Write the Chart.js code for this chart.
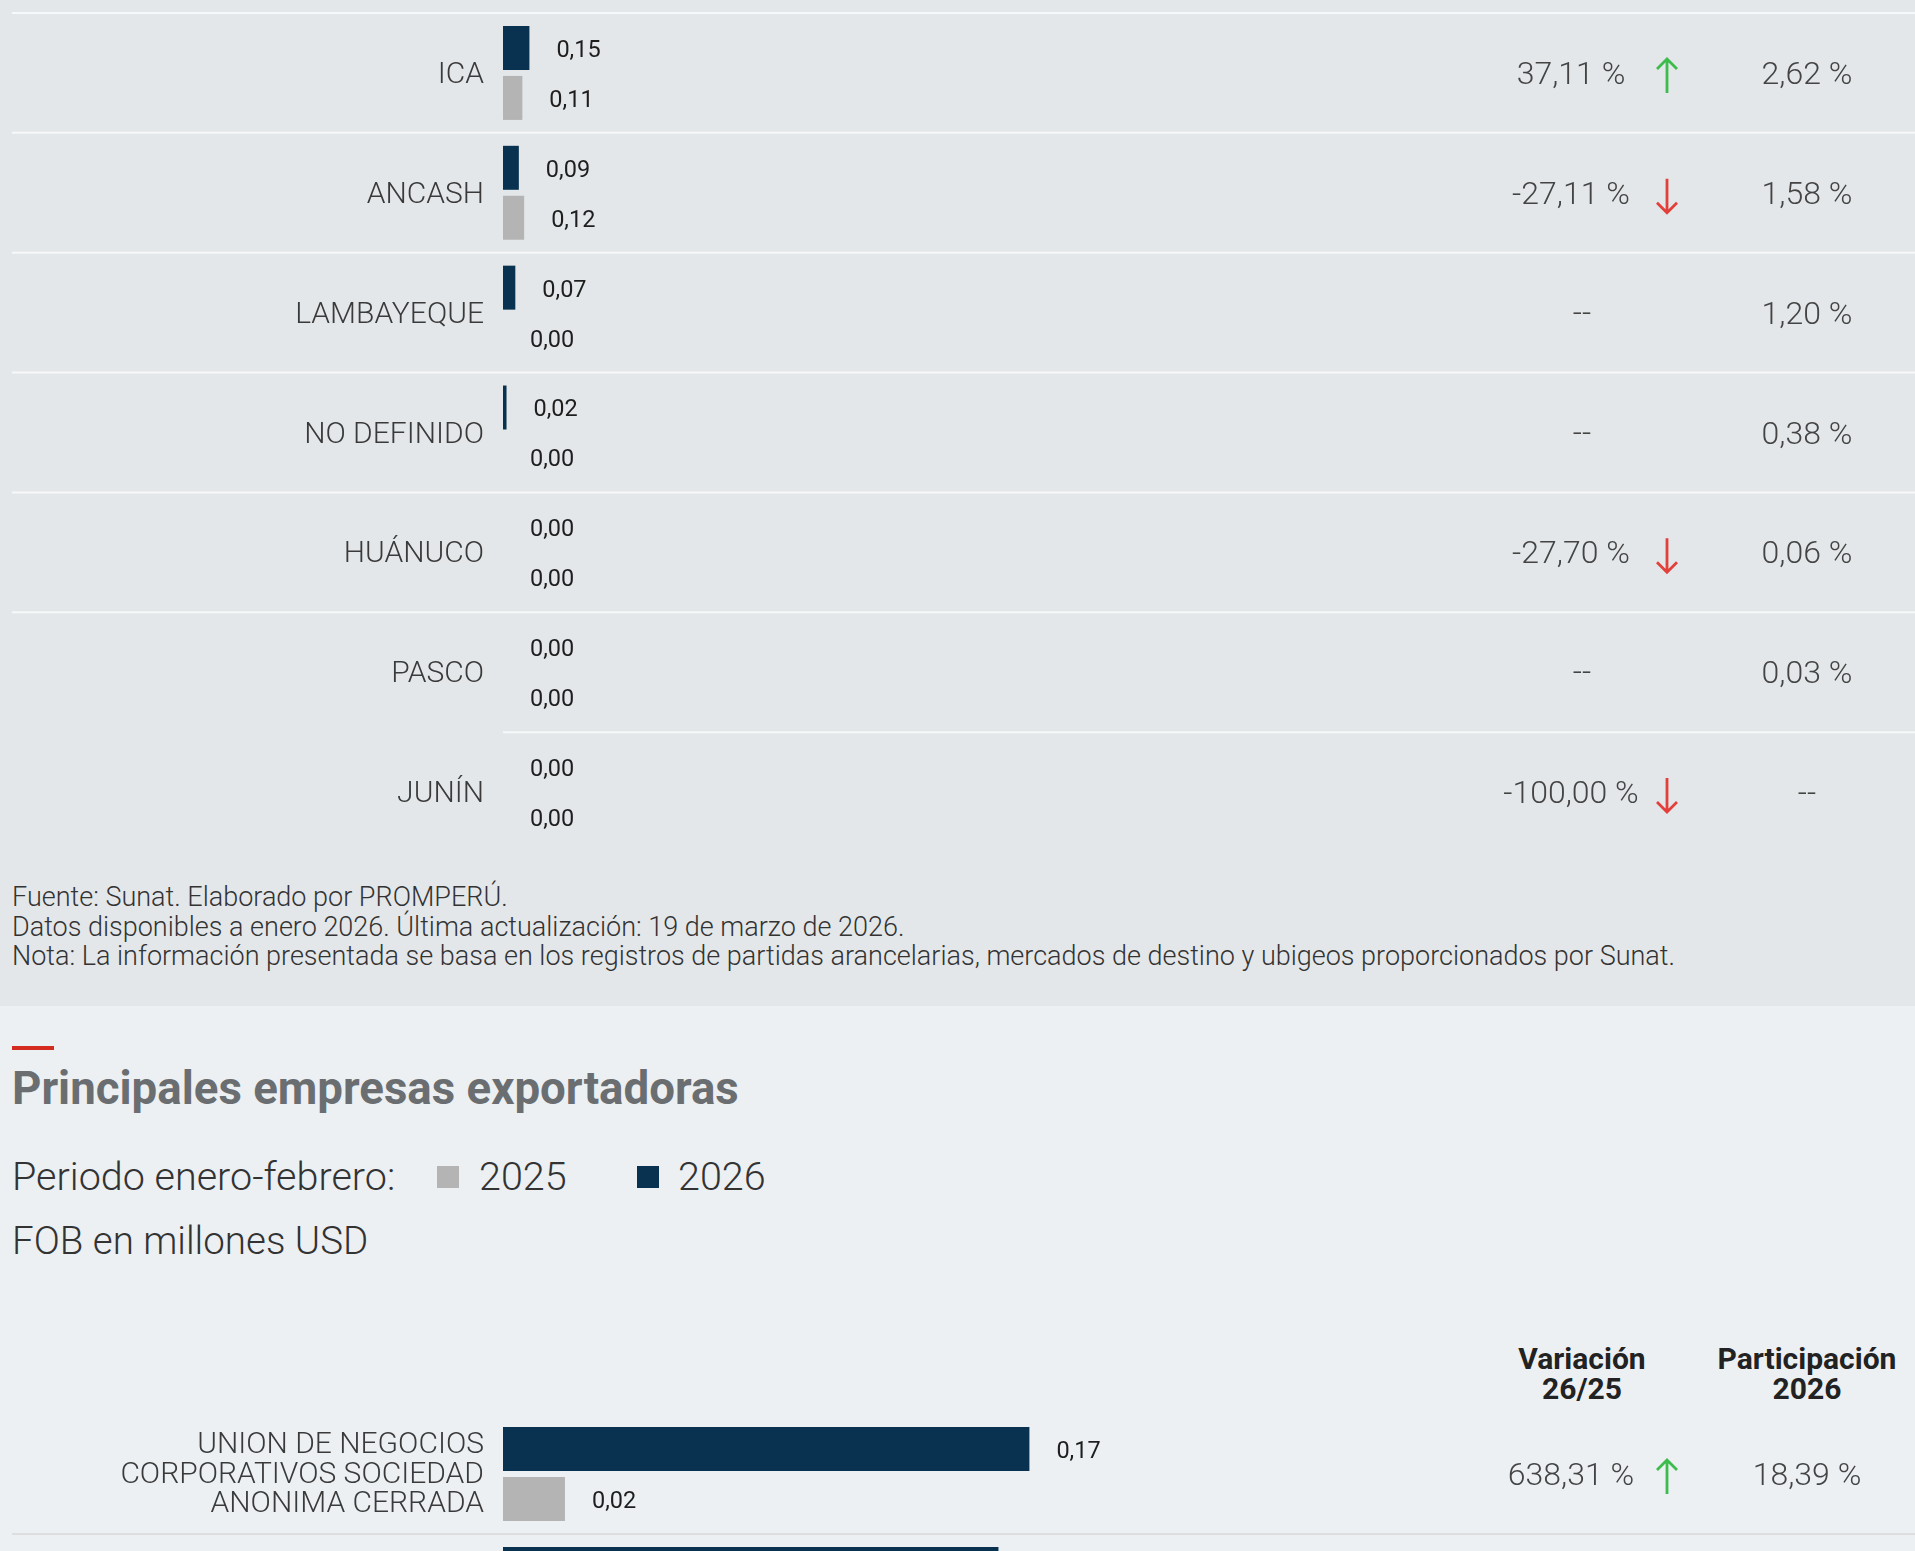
<!DOCTYPE html>
<html lang="es">
<head>
<meta charset="utf-8">
<title>Exportaciones por región y principales empresas</title>
<script src="https://cdn.jsdelivr.net/npm/chart.js@4.4.1/dist/chart.umd.min.js"></script>
<style>
  html, body { margin: 0; padding: 0; width: 1915px; height: 1551px; overflow: hidden; font-family: Roboto, "Noto Sans", sans-serif; color: #333; }
  #top { position: absolute; left: 0; top: 0; width: 1915px; height: 1006px; background: #e4e7e9; }
  #bottom { position: absolute; left: 0; top: 1006px; width: 1915px; height: 545px; background: #ecf0f3; overflow: hidden; }
  .box { position: absolute; left: 0; width: 1915px; }
  .foot { position: absolute; left: 12px; top: 883px; font-size: 27px; line-height: 29.5px; font-weight: 300; color: #333; white-space: nowrap; }
  .dash { position: absolute; left: 12px; top: 40px; width: 42px; height: 4px; background: #d52b1e; }
  .title { position: absolute; left: 12px; top: 57px; font-size: 46px; line-height: 50px; font-weight: 700; color: #6b6e71; white-space: nowrap; transform-origin: left center; }
  .txt { position: absolute; font-size: 39.5px; line-height: 46px; font-weight: 300; color: #333; white-space: nowrap; }
  .sq { position: absolute; width: 22px; height: 22px; }
  .hdr { position: absolute; width: 260px; margin-left: -130px; text-align: center; font-size: 30px; line-height: 29.5px; font-weight: 700; color: #222; }
</style>
</head>
<body>
<div id="top">
  <div class="box" style="top:0;height:852px"><canvas id="regionChart"></canvas></div>
  <div class="foot">
    Fuente: Sunat. Elaborado por PROMPERÚ.<br>
    Datos disponibles a enero 2026. Última actualización: 19 de marzo de 2026.<br>
    Nota: La información presentada se basa en los registros de partidas arancelarias, mercados de destino y ubigeos proporcionados por Sunat.
  </div>
</div>
<div id="bottom">
  <div class="dash"></div>
  <div class="title" id="title">Principales empresas exportadoras</div>
  <div class="txt" style="left:12px;top:148px">Periodo enero-febrero:</div>
  <div class="sq" style="left:437px;top:160px;background:#b4b4b4"></div>
  <div class="txt" style="left:479px;top:148px">2025</div>
  <div class="sq" style="left:637px;top:160px;background:#08324f"></div>
  <div class="txt" style="left:678px;top:148px">2026</div>
  <div class="txt" style="left:12px;top:212px;font-size:38.5px">FOB en millones USD</div>
  <div class="hdr" style="left:1582px;top:338px">Variación<br>26/25</div>
  <div class="hdr" style="left:1807px;top:338px">Participación<br>2026</div>
  <div class="box" style="top:408px;height:240px"><canvas id="companyChart"></canvas></div>
</div>

<script>
// regiones (FOB en millones USD)
const regions = ['ICA', 'ANCASH', 'LAMBAYEQUE', 'NO DEFINIDO', 'HUÁNUCO', 'PASCO', 'JUNÍN'];
const region2026 = [0.15, 0.09, 0.07, 0.02, 0.00, 0.00, 0.00];
const region2025 = [0.11, 0.12, 0.00, 0.00, 0.00, 0.00, 0.00];
const regionVariation = [37.11, -27.11, null, null, -27.70, null, -100.00];
const regionShare = [2.62, 1.58, 1.20, 0.38, 0.06, 0.03, null];

// empresas
const companies = [['UNION DE NEGOCIOS', 'CORPORATIVOS SOCIEDAD', 'ANONIMA CERRADA'], ''];
const company2026 = [0.17, 0.16];
const company2025 = [0.02, null];
const companyVariation = [638.31, null];
const companyShare = [18.39, null];

const NAVY = '#08324f';
const GREY = '#b4b4b4';

function fmt(v) {
  return v.toFixed(2).replace('.', ',');
}

function drawArrow(ctx, x, y, up, color) {
  const h = 17;
  const tip = up ? y - h : y + h;
  const back = up ? 10 : -10;
  ctx.save();
  ctx.strokeStyle = color;
  ctx.lineWidth = 2.8;
  ctx.beginPath();
  ctx.moveTo(x, y - h);
  ctx.lineTo(x, y + h);
  ctx.moveTo(x - 10, tip + back);
  ctx.lineTo(x, tip);
  ctx.lineTo(x + 10, tip + back);
  ctx.stroke();
  ctx.restore();
}

// líneas entre filas, etiquetas de valor y columnas de variación / participación
const rowDecor = {
  id: 'rowDecor',
  beforeDatasetsDraw(chart, args, o) {
    const { ctx, chartArea, scales: { y } } = chart;
    const n = chart.data.labels.length;
    const band = (y.bottom - y.top) / n;
    ctx.save();
    ctx.strokeStyle = o.ruleColor;
    ctx.lineWidth = 2;
    for (let i = 0; i < n; i++) {
      const c = y.getPixelForValue(i);
      const yy = o.ruleEdge === 'top' ? c - band / 2 : c + band / 2;
      const x0 = i === o.shortRule ? chartArea.left : 12;
      ctx.beginPath();
      ctx.moveTo(x0, yy);
      ctx.lineTo(chart.width, yy);
      ctx.stroke();
    }
    ctx.restore();
  },
  afterDatasetsDraw(chart, args, o) {
    const { ctx, scales: { y } } = chart;
    ctx.save();
    ctx.textBaseline = 'middle';

    // valores al final de cada barra
    ctx.font = '400 23.5px Roboto';
    ctx.fillStyle = '#1e1e1e';
    ctx.textAlign = 'left';
    chart.data.datasets.forEach((ds, di) => {
      chart.getDatasetMeta(di).data.forEach((bar, i) => {
        const v = ds.data[i];
        if (v === null || v === undefined) return;
        ctx.fillText(fmt(v), bar.x + 27, bar.y + 3);
      });
    });

    ctx.font = '300 32px Roboto';
    ctx.fillStyle = '#444';
    ctx.textAlign = 'center';
    o.variation.forEach((v, i) => {
      const c = y.getPixelForValue(i) + 3;
      if (v === null) {
        ctx.fillText('--', 1582, c - 1);
        return;
      }
      ctx.fillText(fmt(v) + ' %', 1571, c);
      drawArrow(ctx, 1667, c, v >= 0, v >= 0 ? '#3dbb4c' : '#e2403b');
    });
    o.share.forEach((v, i) => {
      const c = y.getPixelForValue(i) + 3;
      ctx.fillText(v === null ? '--' : fmt(v) + ' %', 1807, c);
    });
    ctx.restore();
  }
};

function makeChart(id, labels, s2026, s2025, variation, share, xMax, decor) {
  const ctx = document.getElementById(id).getContext('2d');
  return new Chart(ctx, {
    type: 'bar',
    data: {
      labels,
      datasets: [
        { label: '2026', data: s2026, backgroundColor: NAVY },
        { label: '2025', data: s2025, backgroundColor: GREY }
      ]
    },
    options: {
      indexAxis: 'y',
      responsive: true,
      maintainAspectRatio: false,
      animation: false,
      categoryPercentage: 0.834,
      barPercentage: 0.88,
      layout: { padding: { top: decor.padTop, bottom: 0, left: 0, right: 1915 - 1401 } },
      plugins: {
        legend: { display: false },
        tooltip: { enabled: false },
        rowDecor: Object.assign({ variation, share }, decor)
      },
      scales: {
        x: { display: false, min: 0, max: xMax },
        y: {
          grid: { display: false, drawTicks: false, tickLength: 0 },
          border: { display: false },
          ticks: {
            padding: 19,
            labelOffset: decor.labelShift,
            color: '#3a3a3a',
            font: { family: 'Roboto', size: 30, weight: 300, lineHeight: 0.977 }
          },
          afterFit(scale) {
            scale.width = 503;
            // sin relleno extra por la altura de las etiquetas
            scale.paddingTop = 0;
            scale.paddingBottom = 0;
          }
        }
      }
    },
    plugins: [rowDecor]
  });
}

document.addEventListener('DOMContentLoaded', () => {
  makeChart('regionChart', regions, region2026, region2025, regionVariation, regionShare, 5.1,
    { padTop: 13, ruleEdge: 'top', ruleColor: '#f6f8f9', shortRule: 6, labelShift: 2.5 });
  makeChart('companyChart', companies, company2026, company2025, companyVariation, companyShare, 0.29,
    { padTop: 0, ruleEdge: 'bottom', ruleColor: '#dcdedf', shortRule: -1, labelShift: 1 });

  // el título usa una tipografía condensada en el original
  const t = document.getElementById('title');
  t.style.transform = 'scaleX(' + (727 / t.offsetWidth) + ')';
});
</script>
</body>
</html>
